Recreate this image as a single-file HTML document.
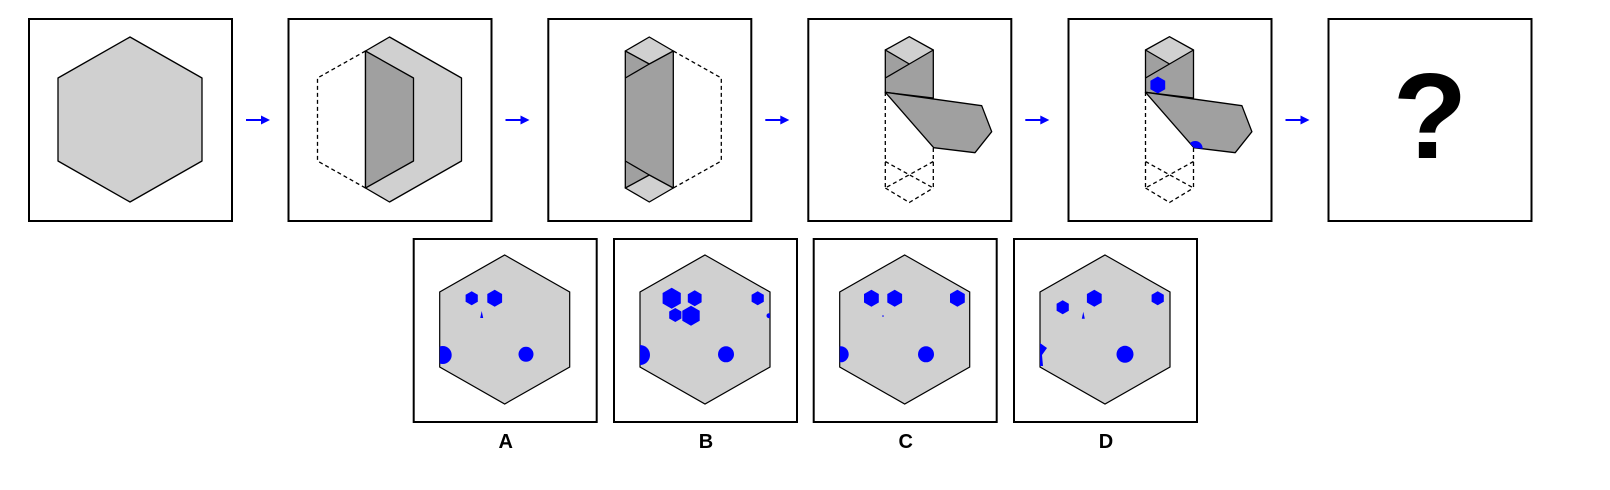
<!DOCTYPE html>
<html><head><meta charset="utf-8"><style>
html,body{margin:0;padding:0;background:#fff;}
svg{display:block;}
text{font-family:"Liberation Sans",sans-serif;font-weight:bold;}
</style></head><body>
<svg id="s" width="1610" height="490" viewBox="0 0 1610 490" xmlns="http://www.w3.org/2000/svg">
<defs>
  <clipPath id="flapclip"><polygon points="77,92.3 173.4,105.7 183.4,131.7 166.7,152.7 125.4,147.7"/></clipPath>
  <clipPath id="ohex"><polygon points="91,16 156,53 156,128 91,165 26,128 26,53"/></clipPath>
</defs>
<g fill="none" stroke="#000" stroke-width="2">
  <rect x="29" y="19" width="203" height="202"/>
  <rect x="288.5" y="19" width="203" height="202"/>
  <rect x="548.3" y="19" width="203" height="202"/>
  <rect x="808.3" y="19" width="203" height="202"/>
  <rect x="1068.5" y="19" width="203" height="202"/>
  <rect x="1328.5" y="19" width="203" height="202"/>
</g>
<g stroke="#000" stroke-width="1.3" stroke-linejoin="round">
  <g transform="translate(29,0)">
    <polygon points="101,37 173,78 173,161 101,202 29,161 29,78" fill="#d0d0d0"/>
  </g>
  <g transform="translate(288.5,0)">
    <polyline points="77,51 29,78 29,161 77,188" fill="none" stroke-dasharray="4,3"/>
    <polygon points="77,51 101,37 173,78 173,161 101,202 77,188" fill="#d0d0d0"/>
    <polygon points="77,51 125,78 125,161 77,188" fill="#a0a0a0"/>
  </g>
  <g transform="translate(548.3,0)">
    <polyline points="125,51 173,78 173,161 125,188" fill="none" stroke-dasharray="4,3"/>
    <rect x="77" y="51" width="48" height="137" fill="#a0a0a0"/>
    <polygon points="77,51 101,37 125,51 101,64" fill="#d0d0d0"/>
    <polygon points="77,188 101,175 125,188 101,202" fill="#d0d0d0"/>
    <line x1="101" y1="64" x2="77" y2="78"/>
    <line x1="101" y1="175" x2="77" y2="161"/>
  </g>
  <g transform="translate(808.3,0)">
    <g fill="none" stroke-dasharray="4,3">
      <line x1="77" y1="92" x2="77" y2="188"/>
      <line x1="125" y1="148" x2="125" y2="188"/>
      <line x1="77" y1="161.5" x2="125" y2="188"/>
      <line x1="125" y1="161.5" x2="77" y2="188"/>
      <polyline points="77,188 101,202.5 125,188"/>
    </g>
    <polygon points="77,50 125,50 125,98 77,92.3" fill="#a0a0a0"/>
    <polygon points="77,50 101,36.7 125,50 101,64" fill="#d0d0d0"/>
    <line x1="101" y1="64" x2="77" y2="78"/>
    <polygon points="77,92.3 173.4,105.7 183.4,131.7 166.7,152.7 125.4,147.7" fill="#a0a0a0"/>
  </g>
  <g transform="translate(1068.5,0)">
    <g fill="none" stroke-dasharray="4,3">
      <line x1="77" y1="92" x2="77" y2="188"/>
      <line x1="125" y1="148" x2="125" y2="188"/>
      <line x1="77" y1="161.5" x2="125" y2="188"/>
      <line x1="125" y1="161.5" x2="77" y2="188"/>
      <polyline points="77,188 101,202.5 125,188"/>
    </g>
    <polygon points="77,50 125,50 125,98 77,92.3" fill="#a0a0a0"/>
    <polygon points="77,50 101,36.7 125,50 101,64" fill="#d0d0d0"/>
    <line x1="101" y1="64" x2="77" y2="78"/>
    <polygon points="89.3,76.5 96.7,80.7 96.7,89.3 89.3,93.5 81.9,89.3 81.9,80.7" fill="#0000ff" stroke="none"/>
    <polygon points="77,92.3 173.4,105.7 183.4,131.7 166.7,152.7 125.4,147.7" fill="#a0a0a0"/>
    <circle cx="126.7" cy="148.5" r="7.5" fill="#0000ff" stroke="none" clip-path="url(#flapclip)"/>
  </g>
</g>
<text x="1430" y="158" font-size="122" text-anchor="middle">?</text>
<g id="arrows" fill="#0000ff" stroke="#0000ff"></g>
<g id="opts"></g>
</svg>
<script>
const NS='http://www.w3.org/2000/svg';
const svg=document.getElementById('s');
const boxLefts=[29,288.5,548.3,808.3,1068.5];
const arrows=document.getElementById('arrows');
boxLefts.forEach((L,i)=>{
  const x0=L+203+14, y=120;
  const ln=document.createElementNS(NS,'line');
  ln.setAttribute('x1',x0);ln.setAttribute('y1',y);ln.setAttribute('x2',x0+16);ln.setAttribute('y2',y);ln.setAttribute('stroke-width','2');
  
  
  arrows.appendChild(ln);
  const hd=document.createElementNS(NS,'polygon');
  hd.setAttribute('points',`${x0+15},${y-4.5} ${x0+24},${y} ${x0+15},${y+4.5}`);hd.setAttribute('stroke','none');
  
  
  arrows.appendChild(hd);
});
function hexPts(cx,cy,r){let p=[];for(let k=0;k<6;k++){const a=Math.PI/180*(60*k-90);p.push((cx+r*Math.cos(a)).toFixed(1)+','+(cy+r*Math.sin(a)).toFixed(1));}return p.join(' ');}
const optLabels=['A','B','C','D'];
const optLefts=[413.7,614,813.7,1014];
// marks: [type, x, y, r]
const optMarks=[
 [['h',58,59.3,7],['h',81,59.3,8.5],['t',68,76,3],['c',29,116,9],['c',112.3,115.3,7.5]],
 [['h',57.7,59.3,10.5],['h',80.7,59.3,8],['h',143.7,59.3,7],['h',61.3,76,7],['h',77,76.7,10],['c',155,76.7,2.5],['c',26,116,10],['c',112,115.3,8]],
 [['h',57.7,59.3,8.5],['h',81,59.3,8.5],['h',143.7,59.3,8.5],['c',69.3,77,0.8],['c',27,115.3,8],['c',112.3,115.3,8]],
 [['h',48.7,68.3,7],['h',80.3,59.3,8.5],['h',143.7,59.3,7],['t',69.3,76.7,3],['w',26,115,0],['c',111,115.3,8.5]]
];
const opts=document.getElementById('opts');
optLefts.forEach((L,i)=>{
  const g=document.createElementNS(NS,'g');
  g.setAttribute('transform',`translate(${L},239)`);
  
  
  const r=document.createElementNS(NS,'rect');
  r.setAttribute('x',0);r.setAttribute('y',0);r.setAttribute('width',183);r.setAttribute('height',183);
  r.setAttribute('fill','#fff');r.setAttribute('stroke','#000');r.setAttribute('stroke-width','2');
  
  
  g.appendChild(r);
  const h=document.createElementNS(NS,'polygon');
  h.setAttribute('points','91,16 156,53 156,128 91,165 26,128 26,53');
  h.setAttribute('fill','#d0d0d0');h.setAttribute('stroke','#000');h.setAttribute('stroke-width','1.2');
  
  
  g.appendChild(h);
  const mg=document.createElementNS(NS,'g');
  mg.setAttribute('clip-path','url(#ohex)');mg.setAttribute('fill','#0000ff');
  optMarks[i].forEach(m=>{
    let el;
    if(m[0]==='h'){el=document.createElementNS(NS,'polygon');el.setAttribute('points',hexPts(m[1],m[2],m[3]));}
    else if(m[0]==='c'){el=document.createElementNS(NS,'circle');el.setAttribute('cx',m[1]);el.setAttribute('cy',m[2]);el.setAttribute('r',m[3]);}
    else if(m[0]==='t'){el=document.createElementNS(NS,'polygon');el.setAttribute('points',`${m[1]},${m[2]-m[3]-1} ${m[1]+m[3]/2},${m[2]+m[3]} ${m[1]-m[3]/2},${m[2]+m[3]}`);}
    else {el=document.createElementNS(NS,'polygon');el.setAttribute('points',`${m[1]},${m[2]-11} ${m[1]+7},${m[2]-6} ${m[1]+2},${m[2]+1} ${m[1]+3},${m[2]+12} ${m[1]},${m[2]+12}`);}
    
    
    mg.appendChild(el);
  });
  g.appendChild(mg);
  opts.appendChild(g);
  const t=document.createElementNS(NS,'text');
  t.setAttribute('x',L+92);t.setAttribute('y',448);t.setAttribute('font-size','20');t.setAttribute('text-anchor','middle');
  t.textContent=optLabels[i];
  
  
  opts.appendChild(t);
});
</script>
</body></html>
